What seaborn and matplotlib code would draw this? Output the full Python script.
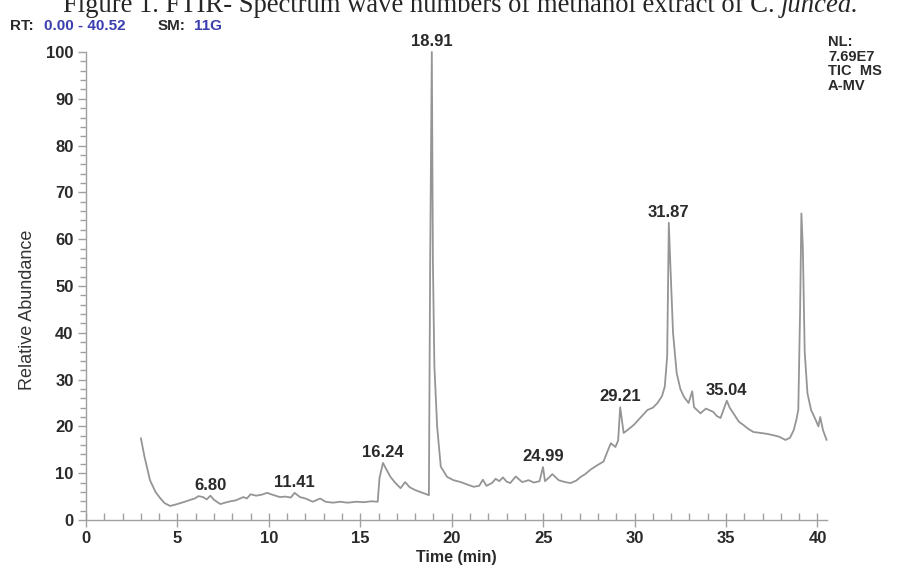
import numpy as np
import pandas as pd
import matplotlib
matplotlib.use("Agg")
import matplotlib.pyplot as plt
from matplotlib.ticker import MultipleLocator
import seaborn as sns

# chromatogram trace (retention time in min, relative abundance in %)
rt = [3.0, 3.2, 3.5, 3.8, 4.05, 4.3, 4.6, 4.9, 5.15, 5.4, 5.7, 5.95, 6.15, 6.4,
      6.6, 6.8, 7.0, 7.35, 7.6, 7.9, 8.2, 8.6, 8.8, 9.0, 9.3, 9.6, 9.9, 10.2,
      10.6, 10.9, 11.2, 11.41, 11.7, 12.0, 12.4, 12.8, 13.1, 13.5, 13.9, 14.3,
      14.8, 15.2, 15.6, 15.95, 16.05, 16.24, 16.4, 16.65, 16.9, 17.2, 17.45,
      17.7, 18.0, 18.4, 18.75, 18.82, 18.91, 18.97, 19.05, 19.2, 19.4, 19.75,
      20.1, 20.5, 20.9, 21.2, 21.5, 21.7, 21.9, 22.2, 22.4, 22.6, 22.8, 23.0,
      23.2, 23.5, 23.85, 24.2, 24.5, 24.8, 24.99, 25.1, 25.3, 25.5, 25.85, 26.2,
      26.5, 26.8, 27.05, 27.3, 27.6, 28.0, 28.3, 28.5, 28.7, 28.95, 29.1, 29.21,
      29.4, 29.7, 29.95, 30.3, 30.7, 31.0, 31.25, 31.5, 31.65, 31.78, 31.87,
      31.95, 32.1, 32.3, 32.5, 32.7, 32.95, 33.15, 33.25, 33.6, 33.9, 34.3, 34.5,
      34.7, 35.04, 35.2, 35.4, 35.7, 35.95, 36.2, 36.5, 36.9, 37.25, 37.6, 37.9,
      38.25, 38.5, 38.7, 38.85, 38.95, 39.05, 39.12, 39.2, 39.3, 39.45, 39.65,
      39.9, 40.05, 40.15, 40.3, 40.5]
abundance = [17.5, 13.5, 8.5, 6.0, 4.7, 3.6, 3.0, 3.3, 3.6, 3.9, 4.3, 4.6, 5.1, 4.9,
             4.4, 5.2, 4.3, 3.4, 3.7, 4.0, 4.2, 4.9, 4.6, 5.5, 5.2, 5.4, 5.8, 5.4,
             4.9, 5.0, 4.8, 5.8, 4.9, 4.6, 3.9, 4.6, 3.9, 3.7, 3.9, 3.7,
             3.9, 3.8, 4.0, 3.9, 9.0, 12.2, 11.0, 9.2, 8.0, 6.8, 8.1,
             7.0, 6.4, 5.8, 5.3, 55, 100, 55, 33, 20, 11.4, 9.2,
             8.5, 8.1, 7.5, 7.1, 7.3, 8.6, 7.3, 7.9, 8.8, 8.3, 9.1, 8.2,
             7.9, 9.3, 8.1, 8.5, 8.0, 8.3, 11.3, 8.3, 9.0, 9.8, 8.5, 8.1,
             7.9, 8.4, 9.2, 9.8, 10.8, 11.8, 12.5, 14.5, 16.4, 15.6, 17.0, 24.1,
             18.6, 19.5, 20.3, 21.8, 23.5, 24.0, 25.0, 26.5, 28.5, 35, 63.5,
             55, 40, 31.4, 28.0, 26.3, 25.0, 27.5, 24.1, 22.8, 23.8, 23.1, 22.2,
             21.8, 25.5, 24.0, 22.8, 21.0, 20.3, 19.5, 18.8, 18.6, 18.4, 18.1, 17.8,
             17.1, 17.6, 19.2, 21.5, 23.5, 45, 65.5, 58, 36, 27.1, 23.5,
             21.4, 20.0, 22.0, 19.2, 17.1]

# labelled peaks
peak_rt = [6.80, 11.41, 16.24, 18.91, 24.99, 29.21, 31.87, 35.04]
peak_label = ["6.80", "11.41", "16.24", "18.91", "24.99", "29.21", "31.87", "35.04"]

df = pd.DataFrame({"rt": rt, "abundance": abundance})

sns.set_style("white")
plt.rcParams["font.family"] = ["Liberation Sans", "DejaVu Sans"]

W, H = 899, 566
fig = plt.figure(figsize=(W / 100, H / 100), dpi=100)
ax = fig.add_axes([86 / W, 46 / H, 741 / W, 468 / H])

sns.lineplot(data=df, x="rt", y="abundance", ax=ax, color="#959595",
             linewidth=1.3, clip_on=False)

for t, lab in zip(peak_rt, peak_label):
    h = max(v for r, v in zip(rt, abundance) if abs(r - t) < 0.25)
    ax.annotate(lab, xy=(t, h), xytext=(0, 2), textcoords="offset points",
                ha="center", va="bottom", fontsize=12, fontweight="bold",
                color="#2a2a2a")

ax.set_xlim(0, 40.52)
ax.set_ylim(0, 100)
ax.xaxis.set_major_locator(MultipleLocator(5))
ax.xaxis.set_minor_locator(MultipleLocator(1))
ax.yaxis.set_major_locator(MultipleLocator(10))
ax.yaxis.set_minor_locator(MultipleLocator(2))

for s in ["top", "right"]:
    ax.spines[s].set_visible(False)
for s in ["left", "bottom"]:
    ax.spines[s].set_color("#a0a0a0")
    ax.spines[s].set_linewidth(1.0)

ax.tick_params(axis="x", which="major", direction="inout", length=10, width=1,
               color="#a0a0a0", labelsize=12, labelcolor="#2a2a2a", pad=3)
ax.tick_params(axis="x", which="minor", direction="in", length=5, width=1,
               color="#a0a0a0")
ax.tick_params(axis="y", which="major", direction="out", length=6, width=1,
               color="#a0a0a0", labelsize=12, labelcolor="#2a2a2a", pad=3)
ax.tick_params(axis="y", which="minor", direction="out", length=4, width=1,
               color="#a0a0a0")
ax.tick_params(bottom=True, left=True, which="both")
for lab in ax.get_xticklabels() + ax.get_yticklabels():
    lab.set_fontweight("bold")

ax.set_xlabel("Time (min)", fontsize=11.5, fontweight="bold", color="#2a2a2a")
ax.xaxis.set_label_coords(0.5, -30 / 468)
ax.set_ylabel("Relative Abundance", fontsize=13, color="#333333")
ax.yaxis.set_label_coords(-50 / 741, 0.45)

# caption above the chart (top of the glyphs cropped, as in the source image)
renderer = fig.canvas.get_renderer()
cap_text = "Figure 1. FTIR- Spectrum wave numbers of methanol extract of C. "
probe = fig.text(0, 0, cap_text + "juncea.", fontsize=20, family="Liberation Serif")
cap_size = 20 * 795 / probe.get_window_extent(renderer).width
probe.remove()
cap_y = 1 - 12.5 / H
cap1 = fig.text(63 / W, cap_y, cap_text, ha="left", va="baseline",
                fontsize=cap_size, family="Liberation Serif")
x_end = cap1.get_window_extent(renderer).x1
fig.text(x_end / W, cap_y, "juncea.", ha="left", va="baseline", fontsize=cap_size,
         family="Liberation Serif", style="italic")

rt_y = 1 - 30 / H
fig.text(10 / W, rt_y, "RT:", fontsize=11, fontweight="bold", color="#2a2a2a", va="baseline")
fig.text(44 / W, rt_y, "0.00 - 40.52", fontsize=11, fontweight="bold", color="#3b3fae", va="baseline")
fig.text(158 / W, rt_y, "SM:", fontsize=11, fontweight="bold", color="#2a2a2a", va="baseline")
fig.text(194 / W, rt_y, "11G", fontsize=11, fontweight="bold", color="#3b3fae", va="baseline")
fig.text(828 / W, 1 - 35 / H, "NL:\n7.69E7\nTIC  MS\nA-MV", fontsize=10.5,
         fontweight="bold", color="#2a2a2a", va="top", ha="left", linespacing=1.05)

fig.savefig("out.png", dpi=100, facecolor="white")
